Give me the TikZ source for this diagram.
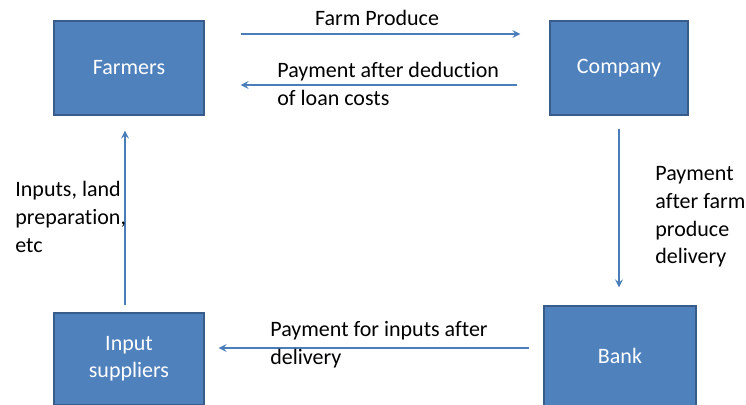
\documentclass[tikz,border=0pt]{standalone}
\usepackage{fontspec}
\setmainfont{Carlito}[Ligatures=NoCommon]
\usepackage{xcolor}
\usetikzlibrary{arrows.meta,positioning,calc}
\definecolor{BoxBlue}{HTML}{4F81BD}
\definecolor{BoxEdge}{HTML}{385D8A}
\definecolor{FlowBlue}{HTML}{4A7EBB}

\begin{document}
\begin{tikzpicture}[x=0.5pt,y=-0.5pt,
    party/.style={draw=BoxEdge, fill=BoxBlue, line width=0.6pt, text=white,
      font=\fontsize{11}{13.5}\selectfont, align=center, inner sep=0pt},
    flow/.style={FlowBlue, line width=0.6pt, -{Stealth[length=4pt,width=4pt,inset=1.5pt]}},
    note/.style={text=black, font=\fontsize{11}{13.8}\selectfont, align=left, inner sep=0pt, anchor=west}]
        \useasboundingbox (0,0) rectangle (746,405);
        % the four parties
        \node[party, minimum width=75pt, minimum height=47pt] (farmers) at (129,68) {Farmers};
        \node[party, minimum width=69pt, minimum height=47pt] (company) at (619,68) {Company};
        \node[party, minimum width=75pt, minimum height=46pt] (suppliers) at (129,359) {Input\\suppliers};
        \node[party, minimum width=76pt, minimum height=50pt] (bank) at (620,356) {Bank};
        \coordinate (bankout) at ([yshift=4pt]bank.west);
        % flows between them
        \draw[flow, shorten <=18pt, shorten >=14.5pt] ([yshift=17pt]farmers.east) -- ([yshift=17pt]company.west)
          node[note, midway, anchor=south, above=4pt] (produce) {Farm Produce};
        \draw[flow, shorten <=16pt, shorten >=18pt] ([yshift=-8.5pt]company.west) -- ([yshift=-8.5pt]farmers.east);
        \draw[flow, shorten <=6.5pt, shorten >=9pt] (company.south) -- (company.south |- bank.north);
        \draw[flow, shorten <=7pt, shorten >=7pt] (bankout) -- (suppliers.east |- bankout);
        \draw[flow, shorten <=3.5pt, shorten >=7.5pt] ([xshift=-2pt]suppliers.north) -- ([xshift=-2pt]farmers.south);
        % labels
        \node[note] (deduction) at (277,84) {Payment after deduction\\of loan costs};
        \node[note] (afterfarm) at (655,217) {Payment\\after farm\\produce\\delivery};
        \node[note] (forinputs) at (270,345) {Payment for inputs after\\delivery};
        \node[note] (inputs) at (15,217) {Inputs, land\\preparation,\\etc};
      \end{tikzpicture}
\end{document}
